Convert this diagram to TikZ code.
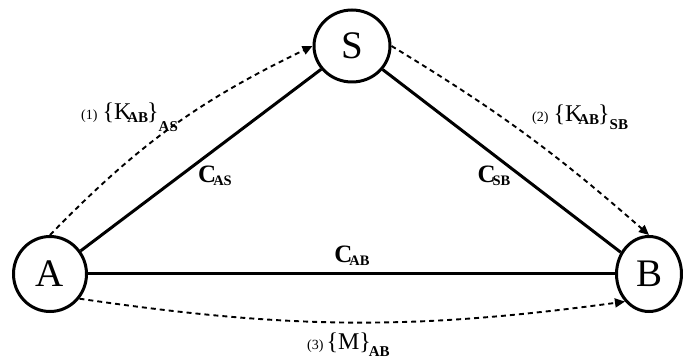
\documentclass[tikz,border=0pt]{standalone}
\usepackage{fontspec}
\setmainfont{Liberation Serif}
\usetikzlibrary{shapes.geometric,arrows.meta}
\newcommand{\fsz}[1]{\fontsize{#1}{#1}\selectfont}
\newcommand{\clab}[1]{{\fsz{25}\bfseries C}\kern-3pt\raisebox{-3pt}{\fsz{14.5}\bfseries #1}}
\begin{document}
\begin{tikzpicture}[x=1pt,y=-1pt,
  party/.style={draw,ellipse,line width=3pt,inner sep=0pt,font=\fsz{39}},
  link/.style={line width=3pt},
  msg/.style={dashed,line width=1.9pt,dash pattern=on 5pt off 4pt,-{Triangle[length=10pt,width=9pt]}},
  lab/.style={inner sep=0pt,anchor=base west}]
\useasboundingbox (0,0) rectangle (683,358);
\node[party,minimum width=73pt,minimum height=75pt] (A) at (50,274) {A};
\node[party,minimum width=76pt,minimum height=72pt] (S) at (352,46) {S};
\node[party,minimum width=65pt,minimum height=75pt] (B) at (649,274) {B};
\draw[link] (A) -- (S);
\draw[link] (S) -- (B);
\draw[link] (A) -- (B);
\draw[msg] (A.north) to[bend left=10] (S.west);
\draw[msg] (S.east) to[bend left=5] (B.north);
\draw[msg] (A.-40) to[bend right=8] (B.south west);
\node[inner sep=0pt] (cas) at (215,176) {\clab{AS}};
\node[inner sep=0pt] (csb) at (494,176) {\clab{SB}};
\node[inner sep=0pt] (cab) at (352,256) {\clab{AB}};
\node[lab] (l1) at (81,120) {{\fsz{14}(1)}\hspace{5pt}{\fsz{24}\{K}\kern-4pt\raisebox{-3pt}{\fsz{15}\bfseries AB}\kern-1pt{\fsz{24}\}}\raisebox{-12pt}{\fsz{15}\bfseries AS}};
\node[lab] (l2) at (532,122) {{\fsz{14}(2)}\hspace{5pt}{\fsz{24}\{K}\kern-4pt\raisebox{-3pt}{\fsz{15}\bfseries AB}\kern-1pt{\fsz{24}\}}\raisebox{-8pt}{\fsz{15}\bfseries SB}};
\node[lab] (l3) at (307,349) {{\fsz{14}(3)}\hspace{3pt}{\fsz{24}\{M\}}\kern-2pt\raisebox{-7pt}{\fsz{15}\bfseries AB}};
\end{tikzpicture}
\end{document}
